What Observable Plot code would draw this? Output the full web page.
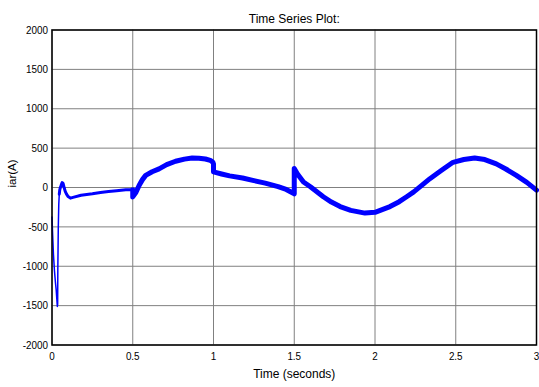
<!DOCTYPE html>
<html>
<head>
<meta charset="utf-8">
<script src="https://cdn.jsdelivr.net/npm/d3@7"></script>
<script src="https://cdn.jsdelivr.net/npm/@observablehq/plot@0.6"></script>
<style>
  html, body { margin: 0; padding: 0; background: #fff; }
  #chart svg { display: block; }
</style>
</head>
<body>
<div id="chart"></div>
<script>
const title = "Time Series Plot:";
const xLabel = "Time (seconds)";
const yLabel = "iar(A)";
const xTicks = [0, 0.5, 1, 1.5, 2, 2.5, 3];
const yTicks = [-2000, -1500, -1000, -500, 0, 500, 1000, 1500, 2000];

const time = [0, 0.004, 0.009, 0.015, 0.021, 0.026, 0.030, 0.033, 0.035, 0.036, 0.039, 0.042, 0.045, 0.048, 0.052, 0.057, 0.063, 0.069, 0.075, 0.082, 0.090, 0.100, 0.114, 0.13, 0.18, 0.25, 0.30, 0.35, 0.40, 0.457, 0.5, 0.5, 0.52, 0.54, 0.56, 0.58, 0.62, 0.663, 0.71, 0.765, 0.82, 0.868, 0.91, 0.95, 0.98, 0.996, 1.0, 1.0, 1.05, 1.1, 1.18, 1.25, 1.32, 1.4, 1.45, 1.497, 1.5, 1.5, 1.52, 1.557, 1.6, 1.68, 1.73, 1.784, 1.85, 1.938, 2.0, 2.093, 2.15, 2.196, 2.24, 2.278, 2.34, 2.41, 2.483, 2.55, 2.617, 2.68, 2.751, 2.81, 2.875, 2.94, 3.0];
const current = [-375, -600, -850, -1050, -1200, -1300, -1420, -1510, -1480, -1050, -500, -210, -85, -30, 0, 30, 63, 50, 0, -50, -85, -115, -135, -125, -98, -80, -63, -52, -42, -30, -28, -120, -60, 29, 100, 154, 200, 237, 290, 333, 360, 375, 372, 362, 345, 320, 300, 198, 172, 148, 120, 88, 55, 10, -25, -75, -80, 240, 170, 70, 10, -117, -185, -242, -290, -325, -315, -242, -180, -117, -55, 8, 112, 215, 320, 355, 375, 355, 300, 235, 154, 65, -34];

const data = time.map((t, i) => ({t, v: current[i], i}));
const seg1 = data.filter(d => d.t <= 0.045);
const seg2 = data.filter(d => d.t >= 0.045 && d.i <= 30);
const seg3 = data.filter(d => d.i >= 30);

const font = "'Liberation Sans', Arial, sans-serif";

const chart = Plot.plot({
  width: 539,
  height: 387,
  marginLeft: 51.5,
  marginRight: 3,
  marginTop: 29.5,
  marginBottom: 42.5,
  style: {fontFamily: font, fontSize: "11.5px", color: "#000", background: "#fff", overflow: "visible"},
  x: {domain: [0, 3], label: null},
  y: {domain: [-2000, 2000], label: null},
  marks: [
    Plot.gridX(xTicks, {stroke: "#808080", strokeOpacity: 1, strokeWidth: 1}),
    Plot.gridY(yTicks, {stroke: "#808080", strokeOpacity: 1, strokeWidth: 1}),
    Plot.line(seg1, {x: "t", y: "v", stroke: "#0000ff", strokeWidth: 1.5}),
    Plot.line(seg2, {x: "t", y: "v", stroke: "#0000ff", strokeWidth: 3}),
    Plot.line(seg3, {x: "t", y: "v", stroke: "#0000ff", strokeWidth: 5}),
    Plot.frame({stroke: "#000", strokeWidth: 1.5}),
    Plot.axisX(xTicks, {tickSize: 0, tickPadding: 7, tickFormat: d => String(d), label: null, fontSize: 11.5}),
    Plot.axisY(yTicks, {tickSize: 0, tickPadding: 4, tickFormat: d => String(d), label: null, fontSize: 11.5}),
    Plot.text([xLabel], {frameAnchor: "bottom", dy: 33, fontSize: 12, fill: "#000", ariaLabel: "xlabel"}),
    Plot.text([yLabel], {frameAnchor: "left", dx: -40, rotate: -90, fontSize: 11.5, fill: "#000", ariaLabel: "ylabel"}),
    Plot.text([title], {frameAnchor: "top", dy: -16, fontSize: 12, fill: "#000", ariaLabel: "title"})
  ]
});

// compress text horizontally (along its own direction) to mimic the narrow MATLAB font
const scales = {"x-axis tick label": 0.86, "y-axis tick label": 0.86, xlabel: 0.82, ylabel: 0.86, title: 0.92};
chart.querySelectorAll("text").forEach(el => {
  const g = el.closest("g[aria-label]");
  const s = g && scales[g.getAttribute("aria-label")];
  if (!s) return;
  const tr = el.getAttribute("transform") || "";
  const x = parseFloat(el.getAttribute("x")) || 0;
  el.setAttribute("transform", `${tr} translate(${x},0) scale(${s},1) translate(${-x},0)`);
});
document.getElementById("chart").appendChild(chart);
</script>
</body>
</html>
